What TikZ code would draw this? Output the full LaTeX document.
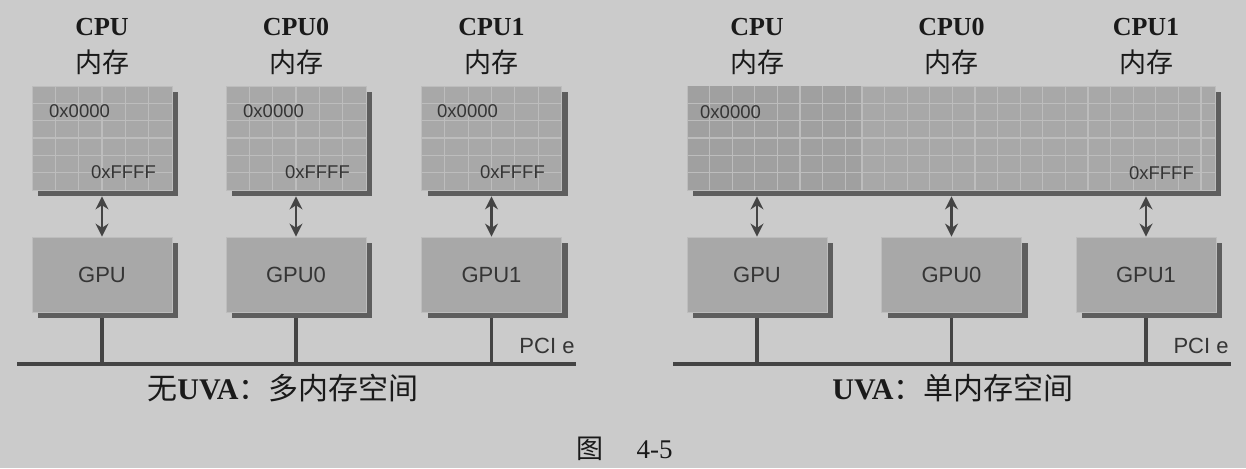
\documentclass[tikz,border=0pt]{standalone}
\usepackage{fontspec}
\setmainfont{Liberation Serif}
\newfontfamily\cjk{Noto Sans CJK SC}
\newfontfamily\lab{Liberation Sans}
\usetikzlibrary{arrows.meta,shadows}
\definecolor{bgc}{HTML}{CBCBCB}
\definecolor{boxc}{HTML}{A8A8A8}
\definecolor{boxd}{HTML}{A0A0A0}
\definecolor{gridc}{HTML}{BDBDBD}
\definecolor{shad}{HTML}{5E5E5E}
\definecolor{txt}{HTML}{353535}
\definecolor{linec}{HTML}{444444}
\definecolor{headc}{HTML}{1A1A1A}
\tikzset{
  shadowed/.style={drop shadow={shadow xshift=6pt, shadow yshift=-6pt, fill=shad, opacity=1}},
  membox/.style={draw=gridc, line width=0.8pt, fill=boxc, minimum width=140pt, minimum height=104pt, inner sep=0pt, shadowed},
  gpubox/.style={draw=gridc, line width=0.8pt, fill=boxc, minimum width=140pt, minimum height=75pt, inner sep=0pt, shadowed,
     font=\lab\fontsize{22}{24}\selectfont, text=txt},
  gridline/.style={draw=gridc, line width=1.1pt},
  addr/.style={font=\lab\fontsize{18.5}{20}\selectfont, text=txt, inner sep=0pt},
  headtxt/.style={font=\bfseries\fontsize{26}{28}\selectfont, text=headc, inner sep=0pt},
  headcjk/.style={font=\cjk\fontsize{27}{29}\selectfont, text=headc, inner sep=0pt},
  captxt/.style={font=\fontsize{30}{32}\selectfont, text=headc, inner sep=0pt},
  pcitxt/.style={font=\lab\fontsize{22}{24}\selectfont, text=txt, inner sep=0pt},
  biarrow/.style={draw=linec, line width=2.6pt, {Stealth[length=13pt,width=13pt]}-{Stealth[length=13pt,width=13pt]}},
  busline/.style={draw=linec, line width=3.2pt},
}
\begin{document}
\begin{tikzpicture}[x=1pt,y=-1pt]
\useasboundingbox (0,0) rectangle (1246,468);
\fill[bgc] (0,0) rectangle (1246,468);

% ---------- left: memory boxes ----------
\node[membox] (m1) at (102,138) {};
\node[membox] (m2) at (296,138) {};
\node[membox] (m3) at (491.5,138) {};
\foreach \L in {32,226,421.5}{
  \foreach \k in {1,...,5}{
    \draw[gridline] (\L+23.33*\k,86.5) -- (\L+23.33*\k,189.5);
    \draw[gridline] (\L+0.5,86+17.33*\k) -- (\L+139.5,86+17.33*\k);
  }
}
% ---------- right: big memory ----------
\node[membox, minimum width=528pt] (mR) at (951,138) {};
\fill[boxd] (687.5,86.5) rectangle (861,189.5);
\foreach \k in {1,...,7}{
  \draw[gridline] (687+22.6*\k,86.5) -- (687+22.6*\k,189.5);
}
\draw[gridline] (862,86.5) -- (862,189.5);
\foreach \k in {1,...,15}{
  \draw[gridline] (862+22.6*\k,86.5) -- (862+22.6*\k,189.5);
}
\foreach \k in {1,...,5}{
  \draw[gridline] (687.5,86+17.33*\k) -- (1214.5,86+17.33*\k);
}

% addresses
\node[addr, anchor=west] (a1) at (49,111) {0x0000};
\node[addr, anchor=east] (b1) at (156,172) {0xFFFF};
\node[addr, anchor=west] (a2) at (243,111) {0x0000};
\node[addr, anchor=east] (b2) at (350,172) {0xFFFF};
\node[addr, anchor=west] (a3) at (437,111) {0x0000};
\node[addr, anchor=east] (b3) at (545,172) {0xFFFF};
\node[addr, anchor=west] (aR) at (700,112) {0x0000};
\node[addr, anchor=east] (bR) at (1194,173) {0xFFFF};

% headings
\node[headtxt] (h1) at (102,27) {CPU};
\node[headcjk] (k1) at (102,62) {内存};
\node[headtxt] (h2) at (296,27) {CPU0};
\node[headcjk] (k2) at (296,62) {内存};
\node[headtxt] (h3) at (491.5,27) {CPU1};
\node[headcjk] (k3) at (491.5,62) {内存};
\node[headtxt] (h4) at (757,27) {CPU};
\node[headcjk] (k4) at (757,62) {内存};
\node[headtxt] (h5) at (951.5,27) {CPU0};
\node[headcjk] (k5) at (951.5,62) {内存};
\node[headtxt] (h6) at (1146,27) {CPU1};
\node[headcjk] (k6) at (1146,62) {内存};

% GPUs
\node[gpubox] (g1) at (102,274.5) {GPU};
\node[gpubox] (g2) at (296,274.5) {GPU0};
\node[gpubox] (g3) at (491.5,274.5) {GPU1};
\node[gpubox] (g4) at (757,274.5) {GPU};
\node[gpubox] (g5) at (951.5,274.5) {GPU0};
\node[gpubox] (g6) at (1146,274.5) {GPU1};

% arrows memory <-> GPU
\draw[biarrow] ([yshift=-6pt]m1.south) -- (g1.north);
\draw[biarrow] ([yshift=-6pt]m2.south) -- (g2.north);
\draw[biarrow] ([yshift=-6pt]m3.south) -- (g3.north);
\coordinate (mRb) at ([yshift=-6pt]mR.south);
\draw[biarrow] (g4.north |- mRb) -- (g4.north);
\draw[biarrow] (g5.north |- mRb) -- (g5.north);
\draw[biarrow] (g6.north |- mRb) -- (g6.north);

% buses
\coordinate (busL0) at (17,364);
\coordinate (busL1) at (576,364);
\coordinate (busR0) at (673,364);
\coordinate (busR1) at (1231,364);
\draw[busline] (busL0) -- (busL1);
\draw[busline] (busR0) -- (busR1);
\foreach \g in {g1,g2,g3}{ \draw[busline] ([yshift=-6pt]\g.south) -- (\g.south |- busL0); }
\foreach \g in {g4,g5,g6}{ \draw[busline] ([yshift=-6pt]\g.south) -- (\g.south |- busR0); }
\node[pcitxt] (p1) at (547,346) {PCI e};
\node[pcitxt] (p2) at (1201,346) {PCI e};

% captions
\node[captxt] (c1) at (283,388) {{\cjk 无}\textbf{UVA}{\cjk ：多内存空间}};
\node[captxt] (c2) at (953,388) {\textbf{UVA}{\cjk ：单内存空间}};
\node[font=\fontsize{27}{29}\selectfont, text=headc, inner sep=0pt] (fig) at (624.5,449) {{\cjk 图}\hspace{33pt}4-5};
\end{tikzpicture}
\end{document}
